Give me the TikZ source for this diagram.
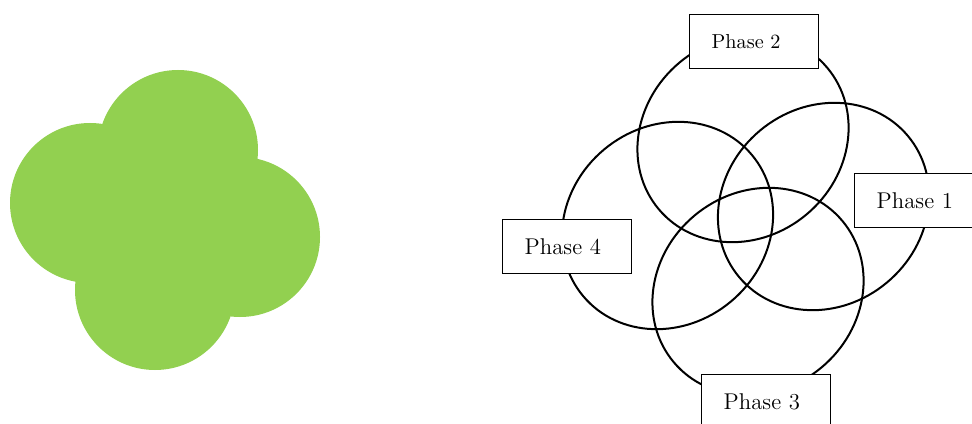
\documentclass[tikz,border=0pt]{standalone}
\definecolor{leafgreen}{RGB}{146,208,80}
\begin{document}
\begin{tikzpicture}[x=0.5pt, y=0.5pt,
        leaf/.style={fill=leafgreen},
        ring/.style={draw=black, line width=1pt},
        phasebox/.style={draw=black, fill=white, line width=0.7pt, anchor=north west,
            text width=42.5pt, align=left, inner xsep=11pt, minimum height=27pt,
            font=\fontsize{11.4}{13}\selectfont}]
        \useasboundingbox (0,0) rectangle (972,423);
        \clip (0,0) rectangle (972,423);
        % green cluster
        \foreach \cx/\cy in {178/273, 90/220, 240/186, 155/133}{
            \fill[leaf] (\cx,\cy) circle (80);
            }
        % four overlapping phases
        \foreach \cx/\cy in {743/284.5, 823.5/216.5, 758/131.5, 667.5/197.5}{
            \draw[ring, rotate around={40:(\cx,\cy)}] (\cx,\cy) ellipse (110 and 99);
            }
        \node[phasebox, font=\fontsize{10.1}{12}\selectfont] (phtwo) at (689, 409) {Phase 2};
        \node[phasebox] (phone) at (854, 250) {Phase 1};
        \node[phasebox] (phfour) at (502, 204) {Phase 4};
        \node[phasebox] (phthree) at (701, 49) {Phase 3};
    \end{tikzpicture}
\end{document}
